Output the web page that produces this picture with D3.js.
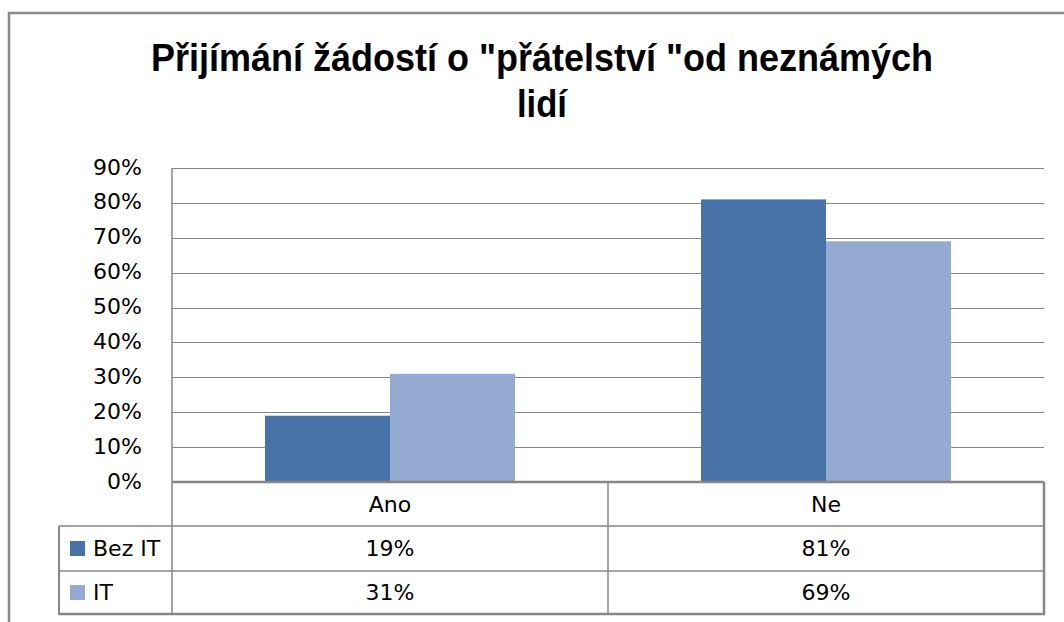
<!DOCTYPE html>
<html>
<head>
<meta charset="utf-8">
<script src="https://cdn.jsdelivr.net/npm/d3@7/dist/d3.min.js"></script>
<style>
    body { margin: 0; background: #fff; }
    .tbl text, .yaxis text { font-family: "DejaVu Sans", Verdana, sans-serif; font-size: 22px; fill: #000; }
</style>
</head>
<body>
<div id="chart"></div>
<script>

// data
const categories = ["Ano", "Ne"];
const seriesNames = ["Bez IT", "IT"];
const seriesColors = ["#4672a7", "#95aad1"];
const bezIT = [19, 81];
const it = [31, 69];
const yTicks = [0, 10, 20, 30, 40, 50, 60, 70, 80, 90];
const titleLines = ['Přijímání žádostí o "přátelství "od neznámých', 'lidí'];

class BarTable {

    constructor(parentElement) {
        this.parentElement = parentElement;
        this.initVis();
    }

    initVis() {
        let vis = this;

        vis.W = 1064;
        vis.H = 622;
        vis.plot = {left: 172, right: 1044, top: 168, bottom: 482};
        vis.rows = [482, 526, 571, 614];
        vis.legendLeft = 59;
        vis.gridColor = "#878787";

        vis.svg = d3.select("#" + vis.parentElement).append("svg")
            .attr("width", vis.W)
            .attr("height", vis.H);

        vis.y = d3.scaleLinear()
            .domain([0, 90])
            .range([vis.plot.bottom, vis.plot.top]);

        vis.x0 = d3.scaleBand()
            .domain(categories)
            .range([vis.plot.left, vis.plot.right])
            .paddingInner(0.4266)
            .paddingOuter(0.2133);

        vis.x1 = d3.scaleBand()
            .domain(seriesNames)
            .range([0, vis.x0.bandwidth()]);

        vis.wrangleData();
    }

    wrangleData() {
        let vis = this;

        vis.series = [bezIT, it];
        vis.displayData = [];
        categories.forEach((c, i) => {
            seriesNames.forEach((s, j) => {
                vis.displayData.push({cat: c, name: s, value: vis.series[j][i], color: seriesColors[j]});
            });
        });

        vis.updateVis();
    }

    updateVis() {
        let vis = this;

        // outer frame (only top and left show)
        vis.svg.append("path")
            .attr("d", `M9,${vis.H} L9,13 L${vis.W},13`)
            .attr("fill", "none")
            .attr("stroke", "#8a8a8a")
            .attr("stroke-width", 2.5);

        // title
        let title = vis.svg.append("g");
        title.selectAll("text")
            .data(titleLines)
            .enter().append("text")
            .attr("x", 542)
            .attr("y", (d, i) => 71 + i * 46)
            .attr("text-anchor", "middle")
            .attr("textLength", (d, i) => i == 0 ? 782 : 50)
            .attr("lengthAdjust", "spacingAndGlyphs")
            .style("font-family", "'Liberation Sans', Arial, sans-serif")
            .style("font-weight", "bold")
            .style("font-size", "39px")
            .text(d => d);

        // gridlines
        vis.svg.append("g").selectAll("line")
            .data(yTicks.filter(d => d > 0))
            .enter().append("line")
            .attr("x1", vis.plot.left)
            .attr("x2", vis.plot.right)
            .attr("y1", d => Math.round(vis.y(d)) + 0.5)
            .attr("y2", d => Math.round(vis.y(d)) + 0.5)
            .attr("stroke", vis.gridColor)
            .attr("stroke-width", 1.2);

        // y axis labels
        let yAxis = vis.svg.append("g")
            .attr("class", "yaxis")
            .attr("transform", `translate(${vis.plot.left}, -1)`)
            .call(d3.axisLeft(vis.y).tickValues(yTicks).tickSize(0).tickPadding(30).tickFormat(d => d + "%"));
        yAxis.select(".domain").remove();
        yAxis.attr("font-family", null).attr("font-size", null);

        // bars
        vis.svg.append("g").selectAll("rect")
            .data(vis.displayData)
            .enter().append("rect")
            .attr("x", d => vis.x0(d.cat) + vis.x1(d.name))
            .attr("width", vis.x1.bandwidth())
            .attr("y", d => vis.y(d.value))
            .attr("height", d => vis.y(0) - vis.y(d.value))
            .attr("fill", d => d.color);

        // data table
        let tbl = vis.svg.append("g").attr("class", "tbl");
        let line = (x1, y1, x2, y2, w) => tbl.append("line")
            .attr("x1", x1).attr("y1", y1).attr("x2", x2).attr("y2", y2)
            .attr("stroke", vis.gridColor).attr("stroke-width", w);

        let mid = (vis.x0(categories[0]) + vis.x0(categories[1]) + vis.x0.bandwidth()) / 2;

        line(vis.plot.left, vis.plot.top, vis.plot.left, vis.rows[3], 1.5);
        line(mid, vis.rows[0], mid, vis.rows[3], 1.5);
        line(vis.plot.right, vis.rows[0], vis.plot.right, vis.rows[3] + 1, 2.5);
        line(vis.legendLeft, vis.rows[1], vis.legendLeft, vis.rows[3] + 1, 2);
        line(vis.plot.left, vis.rows[0], vis.plot.right, vis.rows[0], 2.5);
        line(vis.legendLeft, vis.rows[1], vis.plot.right, vis.rows[1], 1.5);
        line(vis.legendLeft, vis.rows[2], vis.plot.right, vis.rows[2], 1.5);
        line(vis.legendLeft, vis.rows[3], vis.plot.right + 1, vis.rows[3], 2.5);

        let colCenter = c => vis.x0(c) + vis.x0.bandwidth() / 2;

        tbl.selectAll(".cat")
            .data(categories)
            .enter().append("text")
            .attr("x", d => colCenter(d))
            .attr("y", (vis.rows[0] + vis.rows[1]) / 2)
            .attr("text-anchor", "middle")
            .attr("dominant-baseline", "central")
            .text(d => d);

        seriesNames.forEach((s, j) => {
            let cy = (vis.rows[j + 1] + vis.rows[j + 2]) / 2;
            tbl.append("rect")
                .attr("x", 70).attr("y", cy - 7.5)
                .attr("width", 15).attr("height", 15)
                .attr("fill", seriesColors[j]);
            tbl.append("text")
                .attr("x", 93).attr("y", cy)
                .attr("dominant-baseline", "central")
                .text(s);
            tbl.selectAll(".v" + j)
                .data(categories)
                .enter().append("text")
                .attr("x", d => colCenter(d))
                .attr("y", cy)
                .attr("text-anchor", "middle")
                .attr("dominant-baseline", "central")
                .text((d, i) => vis.series[j][i] + "%");
        });
    }
}

let chart = new BarTable("chart");

</script>
</body>
</html>
